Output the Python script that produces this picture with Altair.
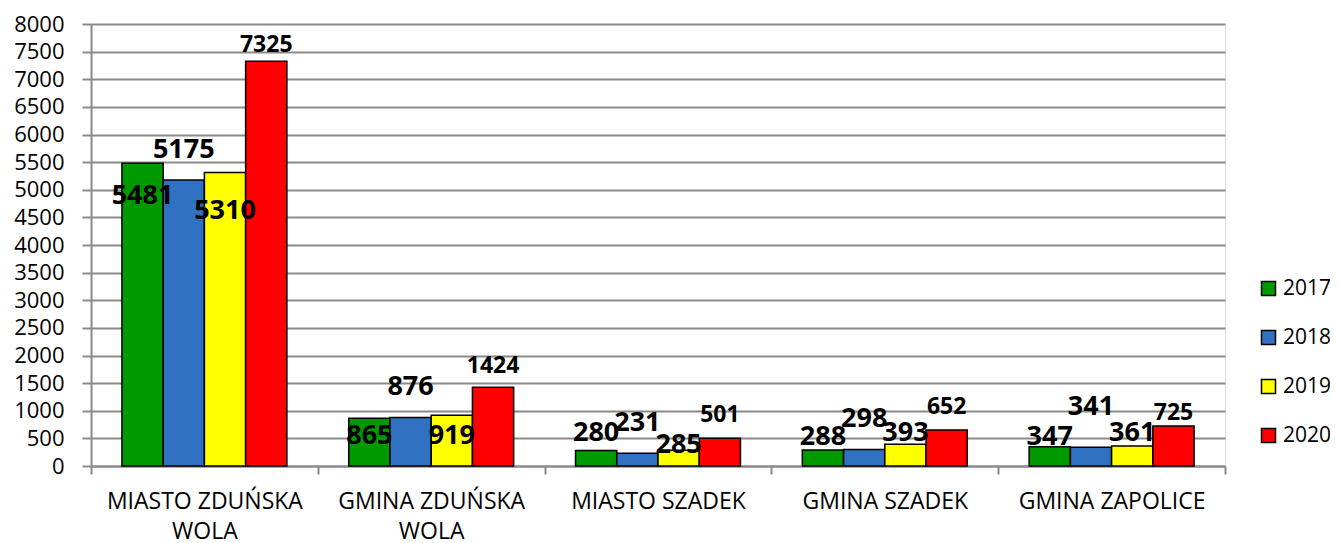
import altair as alt
import pandas as pd

categories = ["MIASTO ZDUŃSKA WOLA", "GMINA ZDUŃSKA WOLA", "MIASTO SZADEK",
              "GMINA SZADEK", "GMINA ZAPOLICE"]
years = ["2017", "2018", "2019", "2020"]
values_2017 = [5481, 865, 280, 288, 347]
values_2018 = [5175, 876, 231, 298, 341]
values_2019 = [5310, 919, 285, 393, 361]
values_2020 = [7325, 1424, 501, 652, 725]
# height (in data units) at which each value label sits
label_at_2017 = [4890, 543, 598, 531, 531]
label_at_2018 = [5716, 1436, 779, 851, 1074]
label_at_2019 = [4620, 543, 380, 598, 598]
label_at_2020 = [7627, 1817, 929, 1069, 960]
colors = ["#009900", "#3171C1", "#FFFF00", "#FF0000"]
y_max = 8000
y_step = 500

series = {
    "2017": (values_2017, label_at_2017),
    "2018": (values_2018, label_at_2018),
    "2019": (values_2019, label_at_2019),
    "2020": (values_2020, label_at_2020),
}
rows = []
for yr in years:
    vals, labs = series[yr]
    for c, v, l in zip(categories, vals, labs):
        rows.append({"cat": c, "year": yr, "value": v, "label_at": l})
df = pd.DataFrame(rows)

GRAY = "#8a8a8a"
FONT = "Open Sans"

x_enc = alt.X(
    "cat:N", sort=categories, title=None,
    scale=alt.Scale(paddingInner=0, paddingOuter=0),
    axis=alt.Axis(
        labelAngle=0, tickBand="extent", tickSize=8, tickWidth=2, tickColor=GRAY,
        domainColor=GRAY, domainWidth=2, grid=False, labelPadding=16,
        labelFont=FONT, labelFontSize=23, labelColor="black", labelLineHeight=30,
        labelBaseline="top", labelLimit=400, labelOverlap=False,
        labelExpr="indexof(datum.label, ' WOLA') > 0 ? [replace(datum.label, ' WOLA', ''), 'WOLA'] : datum.label",
    ),
)
xoff_enc = alt.XOffset("year:N", sort=years,
                       scale=alt.Scale(paddingInner=0, paddingOuter=0.75))
y_scale = alt.Scale(domain=[0, y_max], nice=False)
y_axis = alt.Axis(tickCount=y_max // y_step, labelFont=FONT, labelFontSize=22,
                  labelColor="black", tickSize=9, tickWidth=2, tickColor=GRAY,
                  domainColor=GRAY, domainWidth=2, gridColor=GRAY, gridWidth=2,
                  labelPadding=18, format="d", labelOverlap=False)

base = alt.Chart(df).encode(x=x_enc, xOffset=xoff_enc)

bars = base.mark_bar(stroke="black", strokeWidth=1.5).encode(
    y=alt.Y("value:Q", scale=y_scale, title=None, axis=y_axis),
    color=alt.Color("year:N", scale=alt.Scale(domain=years, range=colors),
                    legend=alt.Legend(title=None, orient="none", legendX=1167, legendY=254,
                                      symbolType="square", symbolSize=196,
                                      symbolStrokeColor="black", symbolStrokeWidth=1.5,
                                      labelFont=FONT, labelFontSize=21, labelColor="black",
                                      rowPadding=27, labelOffset=4, padding=0)),
)

labels_big = base.transform_filter(alt.datum.year != "2020").mark_text(
    font=FONT, fontWeight="bold", fontSize=27, baseline="middle", align="center",
    color="black").encode(
    y=alt.Y("label_at:Q", scale=y_scale, title=None, axis=y_axis),
    text=alt.Text("value:Q", format="d"),
)
labels_small = base.transform_filter(alt.datum.year == "2020").mark_text(
    font=FONT, fontWeight="bold", fontSize=23, baseline="middle", align="center",
    color="black").encode(
    y=alt.Y("label_at:Q", scale=y_scale, title=None, axis=y_axis),
    text=alt.Text("value:Q", format="d"),
)

chart = alt.layer(bars, labels_big, labels_small).properties(
    width=1134, height=442,
    autosize=alt.AutoSizeParams(type="none"),
    padding={"left": 83, "top": 16, "right": 105, "bottom": 80},
).configure_view(stroke=None).configure(background="white")

chart.save("out.html", embed_options={"renderer": "svg", "actions": False})
